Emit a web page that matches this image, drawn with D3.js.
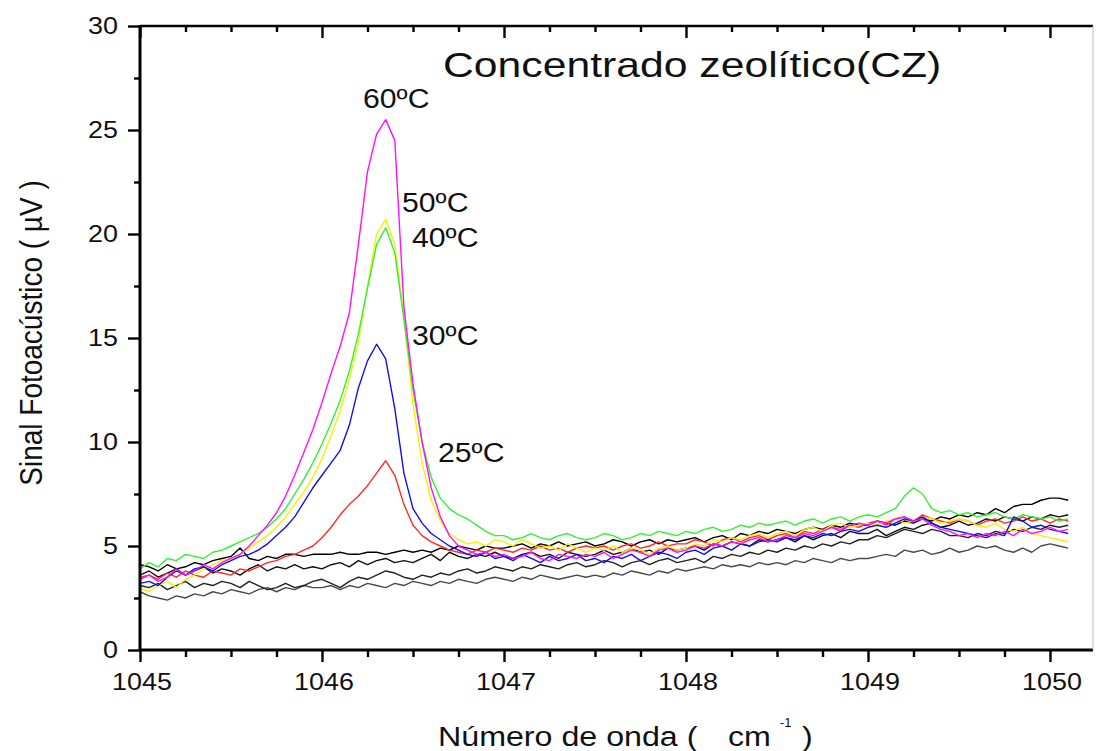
<!DOCTYPE html>
<html><head><meta charset="utf-8">
<script src="https://cdn.jsdelivr.net/npm/d3@7"></script>
<style>
html,body{margin:0;padding:0;background:#fff;}
svg{display:block;}
text{font-family:"Liberation Sans",Arial,sans-serif;fill:#111;}
</style></head>
<body>
<svg id="chart" width="1096" height="751"></svg>
<script>
// ---- data ----
const waveStart = 1045.0, waveStep = 0.05, nPoints = 103; // sampling grid 1045.00 .. 1050.10
const xTicks = [1045, 1046, 1047, 1048, 1049, 1050];
const yTicks = [0, 5, 10, 15, 20, 25, 30];
const tempLabels = ["60ºC", "50ºC", "40ºC", "30ºC", "25ºC"];

const s60 = [3.4,3.6,3.3,3.5,3.9,3.6,3.8,4.1,3.9,4.2,
 4.4,4.6,5.0,5.5,6.0,6.6,7.4,8.4,9.5,10.6,
 11.9,13.3,14.6,16.2,19.5,23.0,24.8,25.5,24.5,16.5,
 12.8,10.0,7.8,6.4,5.5,5.0,4.8,4.6,4.7,4.5,
 4.6,4.4,4.5,4.7,4.4,4.3,4.6,4.5,4.4,4.6,
 4.5,4.7,4.4,4.6,4.8,4.7,4.5,4.8,4.9,4.7,
 4.8,5.0,4.9,5.1,5.0,5.2,5.1,5.3,5.4,5.2,
 5.3,5.5,5.4,5.6,5.5,5.7,5.9,5.8,6.0,6.1,
 6.0,6.2,6.1,6.3,6.4,6.2,6.3,6.0,5.8,5.7,
 5.5,5.6,5.4,5.6,5.5,5.7,5.5,5.8,5.6,5.7,
 5.9,5.7,5.8];
const s40 = [3.9,4.2,4.0,4.4,4.3,4.6,4.5,4.4,4.7,4.8,
 5.0,5.2,5.4,5.6,5.9,6.3,6.8,7.5,8.2,9.0,
 9.9,10.9,12.0,13.4,15.2,17.4,19.5,20.3,19.1,15.9,
 12.5,10.0,8.3,7.3,6.8,6.5,6.3,6.0,5.7,5.5,
 5.5,5.3,5.4,5.6,5.4,5.3,5.5,5.6,5.4,5.3,
 5.4,5.6,5.5,5.3,5.4,5.6,5.5,5.7,5.6,5.5,
 5.7,5.6,5.8,5.9,5.7,5.8,6.0,5.9,6.1,6.0,
 6.1,6.2,6.0,6.2,6.3,6.1,6.3,6.4,6.2,6.4,
 6.5,6.4,6.6,6.8,7.4,7.8,7.5,6.8,6.6,6.7,
 6.5,6.6,6.4,6.5,6.6,6.4,6.3,6.5,6.4,6.3,
 6.4,6.2,6.3];
const s50 = [3.0,2.8,3.1,3.3,3.0,3.4,3.6,3.9,4.1,4.3,
 4.4,4.6,4.9,5.2,5.5,5.9,6.4,7.0,7.6,8.3,
 9.2,10.3,11.5,13.0,14.8,17.5,20.0,20.7,19.5,16.0,
 11.8,9.0,7.2,6.2,5.6,5.3,5.1,5.2,5.0,5.3,
 5.2,5.0,5.3,5.1,4.9,5.0,4.8,5.1,4.9,4.7,
 4.9,4.8,5.0,4.7,4.9,4.8,4.6,4.9,5.0,4.8,
 4.9,5.1,5.0,5.3,5.2,5.4,5.3,5.5,5.6,5.4,
 5.6,5.7,5.5,5.8,5.9,5.7,6.0,6.1,5.9,6.0,
 6.1,6.0,6.2,6.3,6.1,6.2,6.4,6.3,6.1,6.2,
 6.3,6.2,6.0,5.9,6.1,5.8,5.7,5.9,5.6,5.5,
 5.4,5.3,5.2];
const s30 = [3.2,3.3,3.1,3.5,3.8,3.6,3.9,4.0,3.8,4.1,
 4.3,4.5,4.6,4.8,5.1,5.5,5.9,6.4,7.1,7.8,
 8.4,9.0,9.6,10.8,12.6,13.9,14.7,14.0,11.6,8.5,
 6.8,6.1,5.6,5.3,5.0,4.8,4.6,4.5,4.7,4.4,
 4.5,4.3,4.6,4.4,4.2,4.5,4.3,4.4,4.6,4.3,
 4.4,4.2,4.5,4.4,4.6,4.3,4.5,4.7,4.6,4.4,
 4.7,4.8,4.6,4.9,5.0,4.8,5.1,5.0,5.2,5.3,
 5.2,5.4,5.3,5.5,5.4,5.6,5.5,5.7,5.8,5.7,
 5.9,6.0,5.9,6.1,6.3,6.2,6.4,6.1,5.9,5.8,
 5.7,5.6,5.5,5.4,5.6,5.5,6.4,6.2,5.9,6.0,
 5.8,5.7,5.6];
const s25 = [3.5,3.6,3.4,3.7,3.5,3.8,3.6,3.5,3.8,3.7,
 3.6,3.9,3.8,4.0,4.2,4.3,4.5,4.6,4.8,5.0,
 5.4,5.9,6.5,7.0,7.4,7.9,8.5,9.1,8.4,7.0,
 6.0,5.5,5.2,5.0,4.8,4.7,4.6,4.8,4.7,4.9,
 4.8,4.7,4.9,4.8,5.0,4.8,4.9,4.7,4.9,5.0,
 4.9,5.0,4.8,5.0,5.1,4.9,5.0,5.2,5.0,5.1,
 5.1,5.3,5.2,5.0,5.3,5.4,5.2,5.4,5.5,5.3,
 5.5,5.6,5.4,5.7,5.6,5.8,5.9,5.7,6.0,5.9,
 6.1,6.2,6.0,6.3,6.4,6.2,6.5,6.3,6.2,6.1,
 6.3,6.2,6.0,6.2,6.3,6.1,6.2,6.4,6.2,6.3,
 6.1,6.3,6.2];
const base1 = [4.1,4.0,3.8,4.1,3.9,4.0,4.2,4.1,4.3,4.4,
 4.5,4.9,4.4,4.3,4.5,4.4,4.6,4.6,4.5,4.6,
 4.6,4.6,4.7,4.6,4.6,4.7,4.7,4.6,4.7,4.8,
 4.7,4.8,4.7,4.9,4.8,5.0,4.9,4.8,5.0,4.9,
 4.9,5.0,5.1,4.9,5.1,5.0,5.2,5.0,5.1,5.2,
 5.0,5.1,5.3,5.2,5.0,5.2,5.3,5.1,5.3,5.2,
 5.3,5.4,5.2,5.4,5.5,5.3,5.6,5.5,5.7,5.6,
 5.8,5.7,5.6,5.8,5.9,5.8,6.0,5.9,6.1,6.0,
 6.0,6.2,6.1,6.0,6.2,6.1,6.3,6.2,6.4,6.3,
 6.5,6.4,6.6,6.5,6.8,6.6,6.9,7.0,7.0,7.2,
 7.3,7.3,7.2];
const base2 = [3.6,3.8,3.5,3.7,3.9,3.6,3.8,4.0,3.7,3.9,
 3.8,3.6,3.9,4.1,3.8,4.0,3.9,4.1,3.9,4.0,
 3.9,4.1,4.2,4.0,4.3,4.1,4.3,4.4,4.2,4.3,
 4.2,4.4,4.6,4.3,4.7,4.5,4.4,4.6,4.5,4.7,
 4.5,4.4,4.6,4.7,4.5,4.6,4.4,4.7,4.6,4.5,
 4.6,4.8,4.6,4.7,4.9,4.7,4.8,4.6,4.9,4.8,
 4.9,5.0,4.8,5.1,5.0,5.2,5.1,5.0,5.3,5.2,
 5.3,5.4,5.2,5.5,5.3,5.5,5.6,5.4,5.7,5.6,
 5.6,5.8,5.5,5.7,5.9,5.8,6.0,6.1,5.9,6.0,
 6.2,6.0,6.1,6.3,6.2,6.4,6.3,6.2,6.4,6.3,
 6.5,6.4,6.5];
const base3 = [3.1,3.0,3.2,2.9,3.1,3.3,3.0,3.2,3.1,3.3,
 3.2,3.0,3.3,3.1,2.9,3.0,3.2,3.0,3.1,3.3,
 3.4,3.2,3.0,3.3,3.5,3.4,3.6,3.8,3.7,3.5,
 3.4,3.6,3.5,3.7,3.6,3.8,3.9,3.7,3.8,4.0,
 3.9,3.8,4.0,3.9,4.1,4.0,3.9,4.1,4.2,4.0,
 4.1,4.3,4.2,4.0,4.2,4.3,4.1,4.3,4.4,4.2,
 4.3,4.4,4.2,4.5,4.4,4.6,4.5,4.7,4.6,4.8,
 4.7,4.9,4.8,5.0,4.9,5.1,5.0,5.2,5.1,5.3,
 5.3,5.5,5.4,5.6,5.8,5.7,5.6,5.8,5.7,5.5,
 5.5,5.4,5.6,5.5,5.7,5.6,5.8,5.7,5.9,5.8,
 6.0,5.9,6.0];
const base4 = [2.8,2.6,2.5,2.4,2.6,2.5,2.7,2.6,2.8,2.7,
 2.9,2.8,2.7,2.9,3.0,2.8,3.0,2.9,3.1,3.0,
 3.0,3.1,2.9,3.1,3.0,3.2,3.1,3.0,3.2,3.1,
 3.3,3.2,3.1,3.3,3.2,3.4,3.3,3.2,3.4,3.5,
 3.4,3.3,3.5,3.4,3.6,3.5,3.4,3.5,3.6,3.5,
 3.6,3.5,3.7,3.6,3.8,3.7,3.6,3.8,3.7,3.9,
 3.8,3.9,4.0,3.9,4.1,4.0,4.1,4.0,4.2,4.1,
 4.2,4.1,4.3,4.2,4.4,4.3,4.2,4.4,4.3,4.4,
 4.4,4.5,4.6,4.5,4.8,4.7,4.8,4.6,4.7,4.9,
 4.7,4.8,5.0,4.9,5.0,4.8,4.7,4.9,4.7,5.0,
 5.1,5.0,4.9];

const waves = d3.range(nPoints).map(i => +(waveStart + i * waveStep).toFixed(2));

const series = [
  {name:"base4", values: base4, color:"#4a4a4a"},
  {name:"base3", values: base3, color:"#222"},
  {name:"base2", values: base2, color:"#111"},
  {name:"base1", values: base1, color:"#000"},
  {name:"25", values: s25, color:"#ff2a2a"},
  {name:"50", values: s50, color:"#f2f200"},
  {name:"40", values: s40, color:"#33f033"},
  {name:"30", values: s30, color:"#1010ee"},
  {name:"60", values: s60, color:"#ff10ff"}
];

// ---- layout ----
const svg = d3.select("#chart");
const L = 140, R = 1093, T = 26, B = 650;
const x = d3.scaleLinear().domain([1045, 1045 + (R - L) / 182]).range([L, R]);
const y = d3.scaleLinear().domain([0, 30]).range([B, T]);
const SX = 1.17; // horizontal glyph stretch of the original picture

function sText(px, py, str, size, anchor, sx) {
  return svg.append("text")
    .attr("transform", `translate(${px},${py}) scale(${sx || SX},1)`)
    .attr("text-anchor", anchor || "start")
    .style("font-size", size + "px")
    .text(str);
}

// data lines
const line = d3.line().x((d, i) => x(waves[i])).y(d => y(d));
svg.append("g").selectAll("path").data(series).join("path")
  .attr("d", d => line(d.values))
  .attr("fill", "none")
  .attr("stroke", d => d.color)
  .attr("stroke-width", 1.4)
  .attr("stroke-linejoin", "round");

// axes ticks
const xMinor = d3.range(1045, 1050.24, 0.25).filter(v => Math.abs(v - Math.round(v)) > 1e-6);
const yMinor = d3.range(2.5, 30, 5);

function styleAxis(g) {
  g.select(".domain").remove();
  g.selectAll("line").attr("stroke", "#000").attr("stroke-width", 2.4);
}
svg.append("g").attr("transform", `translate(0,${B})`)
  .call(d3.axisBottom(x).tickValues(xTicks).tickSize(12).tickFormat("")).call(styleAxis);
svg.append("g").attr("transform", `translate(0,${B})`)
  .call(d3.axisBottom(x).tickValues(xMinor).tickSize(7).tickFormat("")).call(styleAxis);
svg.append("g").attr("transform", `translate(0,${T})`)
  .call(d3.axisBottom(x).tickValues(xTicks).tickSize(12).tickFormat("")).call(styleAxis);
svg.append("g").attr("transform", `translate(0,${T})`)
  .call(d3.axisBottom(x).tickValues(xMinor).tickSize(6).tickFormat("")).call(styleAxis);
svg.append("g").attr("transform", `translate(${L},0)`)
  .call(d3.axisLeft(y).tickValues(yTicks).tickSize(12).tickFormat("")).call(styleAxis);
svg.append("g").attr("transform", `translate(${L},0)`)
  .call(d3.axisLeft(y).tickValues(yMinor).tickSize(6).tickFormat("")).call(styleAxis);

// frame
svg.append("line").attr("x1", L).attr("x2", R).attr("y1", B).attr("y2", B).attr("stroke", "#000").attr("stroke-width", 3);
svg.append("line").attr("x1", L).attr("x2", R).attr("y1", T).attr("y2", T).attr("stroke", "#000").attr("stroke-width", 2.6);
svg.append("line").attr("x1", L).attr("x2", L).attr("y1", T - 1).attr("y2", B + 1).attr("stroke", "#000").attr("stroke-width", 3);
svg.append("line").attr("x1", R).attr("x2", R).attr("y1", T).attr("y2", B).attr("stroke", "#bbb").attr("stroke-width", 1);

// tick labels
xTicks.forEach(v => sText(x(v) + 2, B + 40, String(v), 23, "middle"));
yTicks.forEach(v => sText(L - 22, y(v) + 8, String(v), 23, "end"));

// axis titles
sText(438, 746, "Número de onda (", 28, "start", 1.15);
sText(728, 746, "cm", 28, "start", 1.15);
sText(780, 727, "-1", 13, "start", 1.0);
sText(802, 746, ")", 28, "start", 1.15);
svg.append("text")
  .attr("transform", `translate(42,333) scale(1.15,1) rotate(-90)`)
  .attr("text-anchor", "middle")
  .style("font-size", "28px")
  .text("Sinal Fotoacústico ( µV )");

// title
sText(443, 77, "Concentrado zeolítico(CZ)", 35, "start", 1.22);

// temperature labels
const labelPos = [[363,108],[402,212],[412,247],[412,345],[438,462]];
tempLabels.forEach((t, i) => sText(labelPos[i][0], labelPos[i][1], t, 27, "start", 1.12));
</script>
</body></html>
